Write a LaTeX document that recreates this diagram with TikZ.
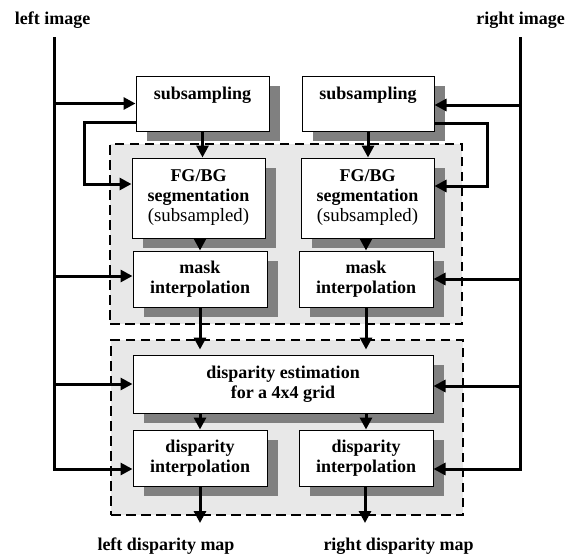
\documentclass[tikz,border=0pt]{standalone}
\usepackage{fontspec}
\setmainfont{Liberation Serif}
\usetikzlibrary{arrows.meta,shadows}
\definecolor{shd}{HTML}{808080}
\definecolor{grp}{HTML}{E8E8E8}
\begin{document}
\begin{tikzpicture}[x=1pt,y=-1pt,
  blk/.style={draw, line width=1pt, fill=white, inner sep=0pt, align=center,
    font=\fontsize{18}{20}\selectfont\bfseries,
    drop shadow={shadow xshift=11pt, shadow yshift=-10pt, fill=shd, opacity=1}},
  grpbox/.style={draw, line width=2.5pt, dash pattern=on 9.5pt off 5.5pt, fill=grp, inner sep=0pt},
  conn/.style={line width=3pt, -{Triangle[length=12pt,width=12pt]}},
  wire/.style={line width=3pt},
  lbl/.style={font=\fontsize{18}{20}\selectfont\bfseries, inner sep=0pt}]
\useasboundingbox (0,0) rectangle (572,558);

% group boxes
\node[grpbox, minimum width=352, minimum height=180] (g1) at (286,234) {};
\node[grpbox, minimum width=352, minimum height=175] (g2) at (287,427.5) {};

% labels
\node[lbl] (limg) at (52.5,20) {left image};
\node[lbl] (rimg) at (520.5,20) {right image};
\node[lbl] (ldm) at (166,546) {left disparity map};
\node[lbl] (rdm) at (398.5,546) {right disparity map};

% blocks
\node[blk, minimum width=133, text height=23pt, text depth=32pt] (subL) at (202.5,103.5) {subsampling};
\node[blk, minimum width=132, text height=23pt, text depth=32pt] (subR) at (368,103.5) {subsampling};
\node[blk, minimum width=133, minimum height=80] (FGL) at (198.5,198)
  {FG/BG\\segmentation\\{\fontsize{18.8}{20}\selectfont\mdseries (subsampled)}};
\node[blk, minimum width=133, minimum height=80] (FGR) at (367.5,198)
  {FG/BG\\segmentation\\{\fontsize{18.8}{20}\selectfont\mdseries (subsampled)}};
\node[blk, minimum width=134, minimum height=56] (maskL) at (200,279) {mask\\interpolation};
\node[blk, minimum width=134, minimum height=56] (maskR) at (366,279) {mask\\interpolation};
\node[blk, minimum width=300, minimum height=58] (disp) at (283,384) {disparity estimation\\for a 4x4 grid};
\node[blk, minimum width=134, minimum height=56] (intL) at (200,458) {disparity\\interpolation};
\node[blk, minimum width=134, minimum height=56] (intR) at (366,458) {disparity\\interpolation};

% input lines
\coordinate (ltop) at (54,37);
\coordinate (rtop) at (520.5,37);
\draw[conn] (ltop) |- ([yshift=-11pt]intL.west);
\draw[conn] (rtop) |- ([yshift=-11pt]intR.east);
\draw[conn] (ltop |- subL.west) -- (subL.west);
\draw[conn] (ltop |- maskL.west) ++(0,-3) -- ([yshift=3pt]maskL.west);
\draw[conn] (ltop |- disp.west) -- (disp.west);
\draw[conn] ([yshift=-1.5pt]rtop |- subR.east) -- ([yshift=-1.5pt]subR.east);
\draw[conn] (rtop |- maskR.east) -- (maskR.east);
\draw[conn] ([yshift=-2pt]rtop |- disp.east) -- ([yshift=-2pt]disp.east);

% loops
\draw[conn] ([yshift=-18.5pt]subL.west) -- ++(-51,0) |- ([yshift=14pt]FGL.west);
\draw[conn] ([yshift=-19.5pt]subR.east) -- ++(53,0) |- ([yshift=12pt]FGR.east);

% vertical flow
\draw[conn] (subL.south) -- (subL.south |- FGL.north);
\draw[conn] (subR.south) -- (subR.south |- FGR.north);
\draw[conn] (maskL.north |- FGL.south) -- (maskL.north);
\draw[conn] (maskR.north |- FGR.south) -- (maskR.north);
\draw[conn] (maskL.south) -- ([yshift=5pt]maskL.south |- disp.north);
\draw[conn] (maskR.south) -- ([yshift=5pt]maskR.south |- disp.north);
\draw[conn] (intL.north |- disp.south) -- (intL.north);
\draw[conn] (intR.north |- disp.south) -- (intR.north);
\coordinate (outL) at (200,523);
\coordinate (outR) at (365,523);
\draw[conn] (intL.south) -- (outL);
\draw[conn] (intR.south -| outR) -- (outR);
\end{tikzpicture}
\end{document}
